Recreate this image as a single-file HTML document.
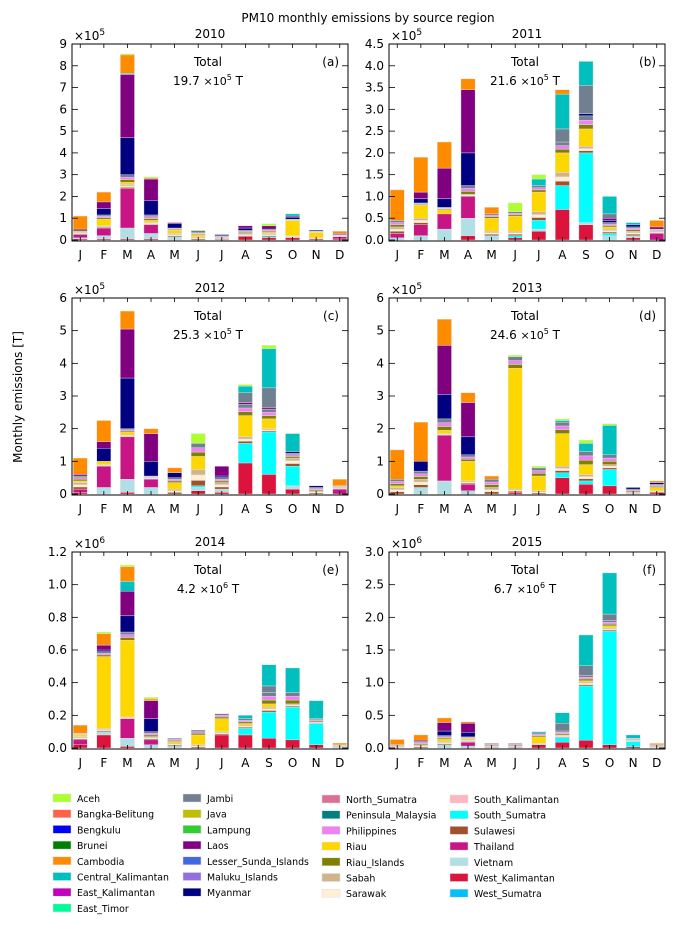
<!DOCTYPE html>
<html><head><meta charset="utf-8">
<style>
html,body{margin:0;padding:0;background:#fff;}
svg{display:block;font-family:"DejaVu Sans","Liberation Sans",sans-serif;}
</style></head>
<body>
<svg id="fig" width="693" height="929" viewBox="0 0 693 929" xmlns="http://www.w3.org/2000/svg">
<text x="368" y="22" font-size="12" text-anchor="middle">PM10 monthly emissions by source region</text>
<text transform="translate(22,397) rotate(-90)" font-size="12" text-anchor="middle">Monthly emissions [T]</text>
<g id="panels"></g>
<g id="legend"></g>
</svg>
<script>
const months = ["J","F","M","A","M","J","J","A","S","O","N","D"];
const seriesKeys = ["wk","vn","th","ss","lm","riau","mm","myan","laos","jambi","ck","camb","aceh"];
const seriesColors = {wk:"#DC143C",vn:"#B0E0E6",th:"#C71585",ss:"#00FFFF",lm:["#A0522D","#FFEFD5","#D2B48C"],riau:"#FFD700",mm:["#808000","#EE82EE","#708090"],myan:"#000080",laos:"#800080",jambi:"#708090",ck:"#00BFBF",camb:"#FF8C00",aceh:"#ADFF2F"};

const d2010 = {
 wk:[.05,.05,.05,.05,0,0,0,.15,.1,.1,.05,.05],
 vn:[.05,.15,.5,.25,.15,0,0,0,0,0,0,0],
 th:[.15,.35,1.8,.4,0,0,0,0,0,0,0,.1],
 ss:[0,0,0,0,0,0,0,0,.05,0,0,0],
 lm:[.1,.1,.2,.1,.15,.15,.1,.15,.15,.1,.05,.05],
 riau:[.05,.3,.1,.1,.15,.1,0,0,.05,.7,.25,0],
 mm:[0,.2,.35,.25,.1,.1,.1,.15,.15,.05,.05,.05],
 myan:[.05,.3,1.7,.65,.2,.05,.05,.1,0,.1,.05,0],
 laos:[.05,.3,2.9,1.0,.05,0,0,.1,.15,.05,0,.05],
 jambi:[0,0,0,0,0,0,0,0,0,0,0,0],
 ck:[0,0,.05,0,0,0,0,0,0,.1,0,0],
 camb:[.6,.45,.85,.05,0,0,0,0,0,0,0,.1],
 aceh:[0,0,.05,.05,0,.05,0,0,.1,0,0,0]};
const d2011 = {
 wk:[0,0,0,.1,0,.05,.2,.7,.35,0,.05,0],
 vn:[.05,.1,.25,.4,.1,0,.05,0,.05,.1,.05,0],
 th:[.1,.25,.35,.5,0,0,0,0,0,0,0,.15],
 ss:[0,0,0,0,0,.05,.2,.55,1.6,.05,0,0],
 lm:[.15,.15,0,.05,.1,.1,.2,.3,.15,.1,.1,.05],
 riau:[0,.3,.1,0,.3,.35,.45,.45,.4,.05,0,0],
 mm:[.15,.05,.05,.2,.1,.1,.15,.25,.3,.1,.1,.05],
 myan:[0,.1,.2,.75,0,0,0,0,.05,.05,.05,0],
 laos:[0,.15,.7,1.45,0,0,0,0,0,.05,0,.05],
 jambi:[0,0,0,0,0,0,0,.3,.65,.1,0,0],
 ck:[0,0,0,0,0,0,.15,.8,.55,.4,.05,0],
 camb:[.7,.8,.6,.25,.15,0,0,.1,0,0,0,.15],
 aceh:[0,0,0,0,0,.2,.1,0,0,0,0,0]};
const d2012 = {
 wk:[.05,0,.05,0,0,.1,.05,.95,.6,.15,0,0],
 vn:[0,.2,.4,.2,0,.1,.1,0,0,.1,0,0],
 th:[.1,.65,1.3,.25,0,0,0,0,0,0,0,.15],
 ss:[0,0,0,0,0,.05,0,.6,1.3,.6,0,0],
 lm:[.2,.05,.05,.05,.15,.5,.2,.2,.1,.25,.1,.05],
 riau:[.05,.1,.1,0,.2,.4,0,.65,.3,0,0,0],
 mm:[.15,0,.1,.05,.15,.4,.15,.35,.3,.15,.1,.05],
 myan:[0,.4,1.55,.45,.15,0,.05,0,0,.05,.05,0],
 laos:[.05,.2,1.5,.85,0,0,.3,.05,.05,0,0,0],
 jambi:[0,0,0,0,0,0,0,.3,.6,0,0,0],
 ck:[0,0,0,0,0,0,0,.2,1.2,.55,0,0],
 camb:[.5,.65,.55,.15,.15,0,0,0,0,0,0,.2],
 aceh:[0,0,0,0,0,.3,0,.05,.1,0,0,0]};
const d2013 = {
 wk:[0,0,0,0,0,.05,0,.5,.3,.25,0,.05],
 vn:[0,.2,.4,.1,0,0,0,0,0,0,0,0],
 th:[0,0,1.4,.2,0,0,0,0,0,0,0,0],
 ss:[0,0,0,0,0,0,0,.15,.1,.5,0,0],
 lm:[.2,.25,.05,.1,.2,.1,.1,.2,.2,.15,.05,.05],
 riau:[.05,0,.1,.6,0,3.7,.45,1.0,.3,0,0,.1],
 mm:[.2,.25,.35,.2,.25,.35,.25,.35,.4,.3,.1,.1],
 myan:[0,.3,.75,.55,0,0,0,0,0,0,.05,.05],
 laos:[0,0,1.5,1.05,0,0,0,0,0,0,0,0],
 jambi:[0,0,0,0,0,0,0,0,0,0,0,0],
 ck:[0,0,0,0,0,0,0,.05,.25,.9,0,0],
 camb:[.9,1.2,.8,.3,.1,0,0,0,0,0,0,.05],
 aceh:[0,0,0,0,0,.05,.05,.05,.1,.05,0,0]};
const d2014 = {
 wk:[.02,.08,.01,0,0,0,.08,.08,.06,.05,.02,0],
 vn:[0,.02,.05,.02,.01,0,0,0,0,0,0,0],
 th:[.03,0,.12,.03,0,0,0,0,0,0,0,0],
 ss:[0,0,0,0,0,0,0,.04,.16,.2,.13,0],
 lm:[.02,.02,.01,.02,.02,.02,.02,.02,.03,.02,.01,.01],
 riau:[.01,.44,.47,0,.01,.06,.08,.01,.02,0,0,0],
 mm:[.01,.03,.05,.03,.02,.03,.03,.03,.07,.07,.02,.01],
 myan:[0,.01,.1,.08,0,0,0,0,0,0,0,0],
 laos:[0,.03,.15,.11,0,0,0,0,0,0,0,0],
 jambi:[0,0,0,0,0,0,0,0,.04,0,0,0],
 ck:[0,0,.06,0,0,0,0,.02,.13,.15,.11,0],
 camb:[.05,.07,.09,.01,0,0,0,0,0,0,0,.01],
 aceh:[0,.01,.01,.01,0,0,0,0,0,0,0,0]};
const d2015 = {
 wk:[0,0,0,0,0,0,.05,.09,.12,.05,.02,0],
 vn:[0,0,.05,.03,0,0,0,0,0,0,0,0],
 th:[0,0,0,.06,0,0,0,0,0,0,0,0],
 ss:[0,0,0,0,0,0,0,.07,.83,1.74,.08,0],
 lm:[.02,.05,.05,.03,.03,.03,.02,.03,.06,.05,.02,.02],
 riau:[0,0,.04,.02,0,0,.1,.01,.02,.03,0,0],
 mm:[.03,.05,.05,.03,.04,.04,.06,.06,.08,.08,.03,.03],
 myan:[0,0,.07,.07,0,0,0,0,0,0,0,0],
 laos:[0,.02,.13,.14,0,0,0,0,0,0,0,0],
 jambi:[0,0,0,0,0,0,0,.12,.15,.1,0,0],
 ck:[0,0,0,0,0,0,.02,.16,.47,.63,.05,0],
 camb:[.08,.08,.07,.02,0,0,0,0,0,0,0,.02],
 aceh:[0,0,0,0,0,0,0,0,0,0,0,0]};

const panelYears = ["2010","2011","2012","2013","2014","2015"];
const panelLetters = ["(a)","(b)","(c)","(d)","(e)","(f)"];
const panelTotals = ["19.7","21.6","25.3","24.6","4.2","6.7"];
const panelExp = ["5","5","5","5","6","6"];
const panelYmax = [9,4.5,6,6,1.2,3.0];
const panelYstep = [1,0.5,1,1,0.2,0.5];
const panelDecimals = [0,1,0,0,1,1];
const panelData = [d2010,d2011,d2012,d2013,d2014,d2015];

const NS="http://www.w3.org/2000/svg";
function mk(tag, attrs, parent){const e=document.createElementNS(NS,tag);for(const k in attrs)e.setAttribute(k,attrs[k]);parent.appendChild(e);return e;}

const panelsG=document.getElementById('panels');
const colX=[72,389], rowY=[44,298,552], PW=276, PH=197;
panelYears.forEach((yr,p)=>{
  const L=colX[p%2], T=rowY[Math.floor(p/2)];
  const g=mk('g',{},panelsG);
  
  
  const ymax=panelYmax[p];
  const yS=v=>T+196*(1-v/ymax);
  const xS=i=>L+(i+0.35)*PW/11.7;
  const bw=0.6*PW/11.7;
  const data=panelData[p];
  for(let i=0;i<12;i++){
    let acc=0;
    seriesKeys.forEach(k=>{
      const v=data[k][i]; if(!v) return;
      const col=seriesColors[k];
      if(Array.isArray(col)){
        for(let s=0;s<3;s++){
          const r=mk('rect',{x:xS(i)-bw/2,y:yS(acc+v*(s+1)/3),width:bw,height:Math.max(0,yS(acc+v*s/3)-yS(acc+v*(s+1)/3)),fill:col[s],stroke:'#e4e4e4','stroke-width':0.4},g);
          
          
        }
      } else {
        const r=mk('rect',{x:xS(i)-bw/2,y:yS(acc+v),width:bw,height:Math.max(0,yS(acc)-yS(acc+v)),fill:col,stroke:'#e4e4e4','stroke-width':0.4},g);
        
        
      }
      acc+=v;
    });
    const t=mk('text',{x:xS(i),y:T+PH+18,'font-size':12,'text-anchor':'middle'},g);
    t.textContent=months[i];
    
    
    mk('line',{x1:xS(i),x2:xS(i),y1:T+PH,y2:T+PH-4,stroke:'#000','stroke-width':0.8},g);
    mk('line',{x1:xS(i),x2:xS(i),y1:T,y2:T+4,stroke:'#000','stroke-width':0.8},g);
  }
  const n=Math.round(ymax/panelYstep[p]);
  for(let j=0;j<=n;j++){
    const v=j*panelYstep[p], y=yS(v);
    mk('line',{x1:L,x2:L+6,y1:y,y2:y,stroke:'#000','stroke-width':0.8},g);
    mk('line',{x1:L+PW,x2:L+PW-6,y1:y,y2:y,stroke:'#000','stroke-width':0.8},g);
    const t=mk('text',{x:L-5,y:y+4,'font-size':12,'text-anchor':'end'},g);
    t.textContent=v.toFixed(panelDecimals[p]);
    
    
  }
  const fr=mk('rect',{x:L,y:T,width:PW,height:PH,fill:'none',stroke:'#000','stroke-width':1},g);
  
  
  const ti=mk('text',{x:L+PW/2,y:T-6,'font-size':12,'text-anchor':'middle'},g);
  ti.textContent=yr;
  
  
  const off=mk('text',{x:L+2,y:T-4,'font-size':12},g);
  off.innerHTML='×10<tspan dy="-5" font-size="9">'+panelExp[p]+'</tspan>';
  
  
  const tt=mk('text',{x:L+136,y:T+22,'font-size':12,'text-anchor':'middle'},g);
  tt.textContent='Total';
  
  
  const tv=mk('text',{x:L+136,y:T+41,'font-size':12,'text-anchor':'middle'},g);
  tv.innerHTML=panelTotals[p]+' <tspan font-size="11">×10</tspan><tspan dy="-5" font-size="8">'+panelExp[p]+'</tspan><tspan dy="5"> T</tspan>';
  
  
  const pl=mk('text',{x:L+PW-9,y:T+22,'font-size':12,'text-anchor':'end'},g);
  pl.textContent=panelLetters[p];
  
  
});

const legendNames=[["Aceh","Bangka-Belitung","Bengkulu","Brunei","Cambodia","Central_Kalimantan","East_Kalimantan","East_Timor"],["Jambi","Java","Lampung","Laos","Lesser_Sunda_Islands","Maluku_Islands","Myanmar"],["North_Sumatra","Peninsula_Malaysia","Philippines","Riau","Riau_Islands","Sabah","Sarawak"],["South_Kalimantan","South_Sumatra","Sulawesi","Thailand","Vietnam","West_Kalimantan","West_Sumatra"]];
const legendColors=[["#ADFF2F","#FF6347","#0000FF","#008000","#FF8C00","#00BFBF","#BF00BF","#00FA9A"],["#708090","#BFBF00","#32CD32","#800080","#4169E1","#9370DB","#000080"],["#DB7093","#008080","#EE82EE","#FFD700","#808000","#D2B48C","#FFEFD5"],["#FFB6C1","#00FFFF","#A0522D","#C71585","#B0E0E6","#DC143C","#00BFFF"]];
const legCX=[53,183,322,450], legY0=[798,798,799,799];
const lg=document.getElementById('legend');
legendNames.forEach((col,c)=>col.forEach((nm,r)=>{
  const y=legY0[c]+r*15.7;
  const s=mk('rect',{x:legCX[c],y:y-4,width:18,height:8,fill:legendColors[c][r],stroke:'#ddd','stroke-width':0.5},lg);
  
  
  const t=mk('text',{x:legCX[c]+24,y:y+4,'font-size':10.5,textLength:0},lg);
  t.removeAttribute('textLength');
  t.setAttribute('font-size','9.4');
  t.textContent=nm;
  
  
}));
</script>
</body></html>
